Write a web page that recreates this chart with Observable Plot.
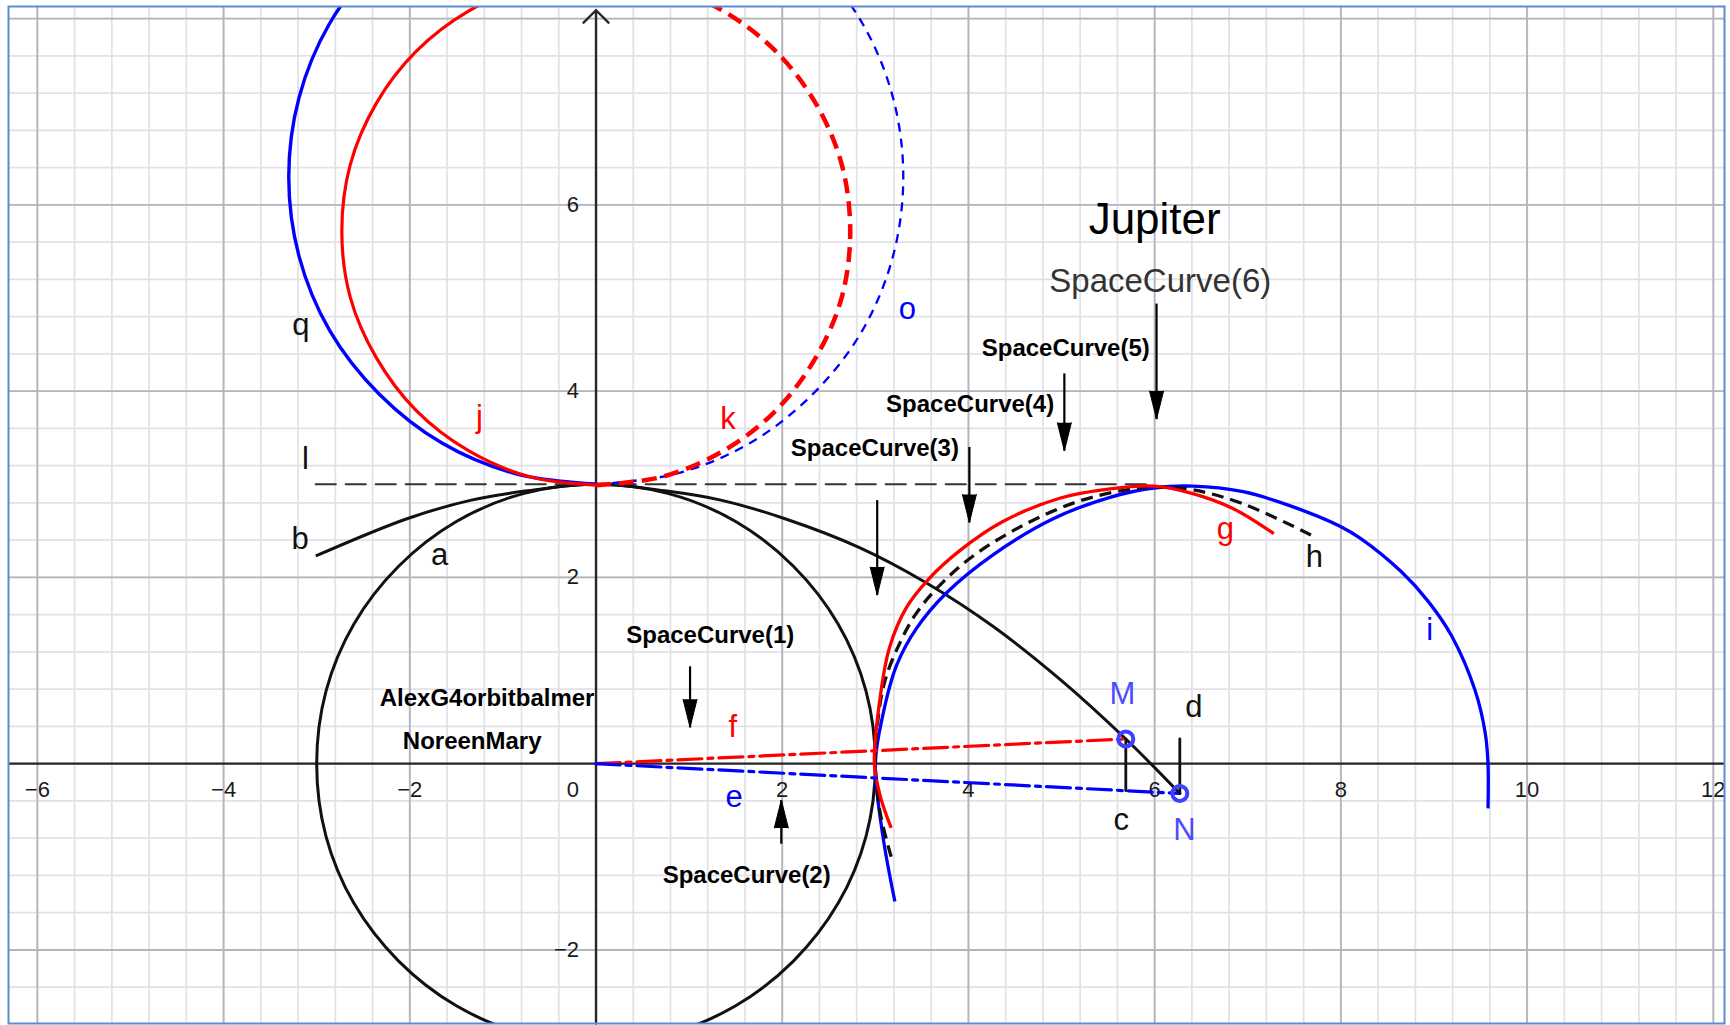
<!DOCTYPE html>
<html>
<head>
<meta charset="utf-8">
<script src="https://cdn.jsdelivr.net/npm/d3@7"></script>
<script src="https://cdn.jsdelivr.net/npm/@observablehq/plot@0.6"></script>
<style>
  html, body { margin: 0; padding: 0; background: #fff; }
  #chart svg { display: block; }
</style>
</head>
<body>
<div id="chart"></div>
<script>
// ---------- view / ticks ----------
const xDomain = [-6.31, 12.12];
const yDomain = [-2.79, 8.13];
const xMajor = [-6, -4, -2, 2, 4, 6, 8, 10, 12];
const yMajor = [-2, 2, 4, 6, 8];
const xTickLabels = [-6, -4, -2, 2, 4, 6, 8, 10, 12];
const yTickLabels = [-2, 2, 4, 6];
const originLabel = ["0"];
const minorStep = 0.4;
const xMinor = d3.range(-15, 31).map(k => +(k * minorStep).toFixed(2));
const yMinor = d3.range(-6, 21).map(k => +(k * minorStep).toFixed(2));
const yAxis = [{x: 0, y1: -2.79, y2: 8.09}];

// ---------- curves ----------
// circle a (black)
const curveA = [[3,0],[2.9,0.78],[2.6,1.5],[2.12,2.12],[1.5,2.6],[0.78,2.9],[0,3],[-0.78,2.9],[-1.5,2.6],[-2.12,2.12],[-2.6,1.5],[-2.9,0.78],[-3,0],[-2.9,-0.78],[-2.6,-1.5],[-2.12,-2.12],[-1.5,-2.6],[-0.78,-2.9],[0,-3],[0.78,-2.9],[1.5,-2.6],[2.12,-2.12],[2.6,-1.5],[2.9,-0.78]];
// curve b (black)
const curveB = [[-3.01,2.23],[-2.03,2.63],[-1.34,2.83],[-0.74,2.93],[0,3.0],[0.74,2.93],[1.34,2.83],[2.03,2.63],[2.83,2.32],[3.55,1.94],[4.27,1.47],[4.99,0.9],[5.69,0.265],[6.27,-0.32]];
// line l (dashed black)
const lineL = [[-3.01,3.0],[6.0,3.0]];
// blue circle: q (solid, left half), o (dashed, right half)
const curveQ = [[0,3.0],[-0.85,3.11],[-1.65,3.44],[-2.33,3.97],[-2.86,4.65],[-3.19,5.45],[-3.3,6.3],[-3.19,7.15],[-2.86,7.95],[-2.33,8.63],[-1.65,9.16],[-0.85,9.49],[0,9.6]];
const curveO = [[0,3.0],[0.85,3.11],[1.65,3.44],[2.33,3.97],[2.86,4.65],[3.19,5.45],[3.3,6.3],[3.19,7.15],[2.86,7.95],[2.33,8.63],[1.65,9.16],[0.85,9.49],[0,9.6]];
// red circle: j (solid, left half), k (dashed, right half)
const curveJ = [[0,2.99],[-0.71,3.08],[-1.37,3.36],[-1.93,3.79],[-2.36,4.36],[-2.64,5.01],[-2.73,5.72],[-2.64,6.43],[-2.36,7.09],[-1.93,7.65],[-1.37,8.08],[-0.71,8.36],[0,8.45]];
const curveK = [[0,2.99],[0.71,3.08],[1.37,3.36],[1.93,3.79],[2.36,4.36],[2.64,5.01],[2.73,5.72],[2.64,6.43],[2.36,7.09],[1.93,7.65],[1.37,8.08],[0.71,8.36],[0,8.45]];
// Jupiter arcs g (red), h (dashed black), i (blue)
const curveG = [[3.17,-0.69],[3.05,-0.34],[2.99,0.0],[3.05,0.7],[3.15,1.24],[3.33,1.67],[3.57,1.98],[3.91,2.29],[4.37,2.6],[4.98,2.85],[5.52,2.95],[5.99,2.98],[6.41,2.9],[6.84,2.74],[7.28,2.47]];
const curveH = [[3.17,-1.0],[3.05,-0.52],[3.0,0.0],[3.02,0.4],[3.1,0.88],[3.265,1.3],[3.43,1.6],[3.64,1.86],[4.01,2.2],[4.55,2.54],[5.16,2.81],[5.69,2.94],[5.99,2.97],[6.41,2.94],[6.95,2.79],[7.71,2.44]];
const curveI = [[3.21,-1.48],[3.08,-0.77],[3.0,0.0],[3.08,0.52],[3.23,1.06],[3.44,1.45],[3.76,1.83],[4.26,2.24],[4.91,2.63],[5.52,2.86],[5.99,2.96],[6.41,2.98],[6.95,2.92],[7.48,2.76],[7.99,2.55],[8.21,2.42],[8.65,2.06],[8.94,1.74],[9.19,1.37],[9.44,0.79],[9.55,0.33],[9.58,0.0],[9.58,-0.48]];
// points and segments
const points = [{name: "M", x: 5.69, y: 0.265}, {name: "N", x: 6.27, y: -0.32}];
const lineF = [[0,0],[5.69,0.265]];
const lineE = [[0,0],[6.27,-0.32]];
const segC = [[5.69,0.265],[5.69,-0.29]];
const segD = [[6.27,-0.32],[6.27,0.265]];

// ---------- annotations ----------
const arrows = [
  {x: 6.02, y1: 4.94, y2: 3.70, dir: 180},
  {x: 5.03, y1: 4.19, y2: 3.36, dir: 180},
  {x: 4.01, y1: 3.40, y2: 2.59, dir: 180},
  {x: 3.02, y1: 2.83, y2: 1.81, dir: 180},
  {x: 1.01, y1: 1.045, y2: 0.39, dir: 180},
  {x: 1.99, y1: -0.86, y2: -0.39, dir: 0}
];
const boldLabels = [
  {text: "SpaceCurve(5)", x: 5.045, y: 4.374},
  {text: "SpaceCurve(4)", x: 4.018, y: 3.776},
  {text: "SpaceCurve(3)", x: 2.995, y: 3.30},
  {text: "SpaceCurve(1)", x: 1.227, y: 1.295},
  {text: "SpaceCurve(2)", x: 1.618, y: -1.282},
  {text: "AlexG4orbitbalmer", x: -1.17, y: 0.615},
  {text: "NoreenMary", x: -1.33, y: 0.161}
];
const objectLabels = [
  {text: "q", x: -3.169, y: 4.60, color: "#111"},
  {text: "j", x: -1.251, y: 3.619, color: "#ff0000"},
  {text: "k", x: 1.418, y: 3.598, color: "#ff0000"},
  {text: "o", x: 3.343, y: 4.779, color: "#0000ff"},
  {text: "l", x: -3.12, y: 3.168, color: "#111"},
  {text: "b", x: -3.177, y: 2.309, color: "#111"},
  {text: "a", x: -1.681, y: 2.13, color: "#111"},
  {text: "g", x: 6.76, y: 2.416, color: "#ff0000"},
  {text: "h", x: 7.716, y: 2.111, color: "#111"},
  {text: "i", x: 8.955, y: 1.324, color: "#0000ff"},
  {text: "M", x: 5.654, y: 0.637, color: "#4d4dff"},
  {text: "d", x: 6.42, y: 0.50, color: "#111"},
  {text: "c", x: 5.64, y: -0.709, color: "#111"},
  {text: "N", x: 6.32, y: -0.824, color: "#4d4dff"},
  {text: "f", x: 1.468, y: 0.286, color: "#ff0000"},
  {text: "e", x: 1.484, y: -0.466, color: "#0000ff"}
];
const bigLabels = [
  {text: "Jupiter", x: 6.0, y: 5.69, size: 44, color: "#000"},
  {text: "SpaceCurve(6)", x: 6.06, y: 5.06, size: 33, color: "#333"}
];

// ---------- drawing ----------
const FONT = "Liberation Sans, Arial, Helvetica, sans-serif";
const fmt = d => (d < 0 ? "\u2212" + Math.abs(d) : String(d));
const px = d => d[0], py = d => d[1];
const curveLine = (data, o) => Plot.line(data, {x: px, y: py, curve: "catmull-rom", clip: true, strokeLinecap: "butt", ...o});

const chart = Plot.plot({
  width: 1730,
  height: 1025,
  marginLeft: 8,
  marginRight: 6,
  marginTop: 6,
  marginBottom: 2,
  x: {domain: xDomain, axis: null},
  y: {domain: yDomain, axis: null},
  style: {fontFamily: FONT, background: "#fff"},
  marks: [
    // grid
    Plot.ruleX(xMinor, {stroke: "#e1e1e7", strokeWidth: 1.7}),
    Plot.ruleY(yMinor, {stroke: "#e1e1e7", strokeWidth: 1.7}),
    Plot.ruleX(xMajor, {stroke: "#b5b5be", strokeWidth: 1.9}),
    Plot.ruleY(yMajor, {stroke: "#b5b5be", strokeWidth: 1.9}),
    // axes
    Plot.ruleY([0], {stroke: "#262626", strokeWidth: 2.4}),
    Plot.arrow(yAxis, {x1: "x", y1: "y1", x2: "x", y2: "y2", stroke: "#262626", strokeWidth: 2.4, headLength: 11, headAngle: 90}),
    Plot.text(xTickLabels, {x: d => d, y: 0, dy: 26, text: fmt, fontSize: 22, fill: "#1a1a1a", fontFamily: FONT}),
    Plot.text(originLabel, {x: 0, y: 0, dx: -17, dy: 26, text: d => d, textAnchor: "end", fontSize: 22, fill: "#1a1a1a", fontFamily: FONT}),
    Plot.text(yTickLabels, {x: 0, y: d => d, dx: -17, text: fmt, textAnchor: "end", fontSize: 22, fill: "#1a1a1a", fontFamily: FONT}),

    // black circle a and curve b, line l
    curveLine(curveA, {curve: "catmull-rom-closed", stroke: "#111", strokeWidth: 3}),
    curveLine(curveB, {stroke: "#111", strokeWidth: 3}),
    Plot.line(lineL, {x: px, y: py, stroke: "#333", strokeWidth: 2.2, strokeDasharray: "20,10"}),

    // blue circle q / o, red circle j / k
    curveLine(curveO, {stroke: "#0000ff", strokeWidth: 2.3, strokeDasharray: "9,7"}),
    curveLine(curveQ, {stroke: "#0000ff", strokeWidth: 3.4}),
    curveLine(curveK, {stroke: "#ff0000", strokeWidth: 4.5, strokeDasharray: "15,8"}),
    curveLine(curveJ, {stroke: "#ff0000", strokeWidth: 3.2}),

    // Jupiter arcs
    curveLine(curveI, {stroke: "#0000ff", strokeWidth: 3.3}),
    curveLine(curveH, {stroke: "#111", strokeWidth: 3.3, strokeDasharray: "12,7"}),
    curveLine(curveG, {stroke: "#ff0000", strokeWidth: 3.3}),

    // f, e dash-dot lines and segments c, d
    Plot.line(lineF, {x: px, y: py, stroke: "#ff0000", strokeWidth: 3.2, strokeDasharray: "24,6,5,6"}),
    Plot.line(lineE, {x: px, y: py, stroke: "#0000ff", strokeWidth: 3.2, strokeDasharray: "24,6,5,6"}),
    Plot.line(segC, {x: px, y: py, stroke: "#111", strokeWidth: 2.8}),
    Plot.line(segD, {x: px, y: py, stroke: "#111", strokeWidth: 2.8}),

    // points M, N
    Plot.dot(points, {x: "x", y: "y", r: 7.5, stroke: "#3f3fff", strokeWidth: 4, fill: "none"}),

    // arrows
    Plot.link(arrows, {x1: "x", y1: "y1", x2: "x", y2: "y2", stroke: "#000", strokeWidth: 2.2}),
    Plot.vector(arrows, {x: "x", y: "y2", rotate: "dir", length: 28, r: 7, shape: "spike", anchor: "end", fill: "#000", stroke: "#000", strokeWidth: 1}),

    // labels
    Plot.text(boldLabels, {x: "x", y: "y", text: "text", lineAnchor: "bottom", fontSize: 24, fontWeight: "bold", fill: "#000", fontFamily: FONT}),
    Plot.text(objectLabels, {x: "x", y: "y", text: "text", lineAnchor: "bottom", fontSize: 31, fill: "color", fontFamily: FONT}),
    Plot.text(bigLabels, {x: "x", y: "y", text: "text", lineAnchor: "bottom", fontSize: d => d.size, fill: "color", fontFamily: FONT}),

    Plot.frame({stroke: "#5b8bd4", strokeWidth: 2})
  ]
});
document.getElementById("chart").appendChild(chart);
</script>
</body>
</html>
